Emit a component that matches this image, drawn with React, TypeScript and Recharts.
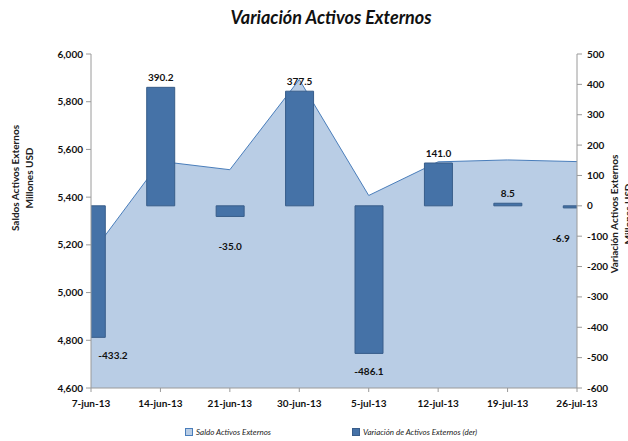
import React from "react";
import {
  ComposedChart,
  Area,
  Bar,
  XAxis,
  YAxis,
  LabelList,
} from "recharts";

const fechas = [
  "7-jun-13",
  "14-jun-13",
  "21-jun-13",
  "30-jun-13",
  "5-jul-13",
  "12-jul-13",
  "19-jul-13",
  "26-jul-13",
];
const saldo = [5160, 5550, 5515, 5893, 5407, 5548, 5556, 5549];
const variacion = [-433.2, 390.2, -35.0, 377.5, -486.1, 141.0, 8.5, -6.9];
const leftTicks = [4600, 4800, 5000, 5200, 5400, 5600, 5800, 6000];
const rightTicks = [-600, -500, -400, -300, -200, -100, 0, 100, 200, 300, 400, 500];

const data = fechas.map((f, i) => ({ i, fecha: f, saldo: saldo[i], variacion: variacion[i] }));

const W = 628;
const H = 441;
const LEFT_W = 91;
const RIGHT_W = 51;
const X_H = 30;
const M = { top: 54, right: 0, bottom: 53 - X_H, left: 0 };
const PLOT_LEFT = LEFT_W;
const PLOT_RIGHT = W - RIGHT_W;

const FONT = "Lato, 'Liberation Sans', sans-serif";
const AREA_FILL = "#B9CDE5";
const AREA_STROKE = "#4A7EBB";
const BAR_FILL = "#4572A7";
const BAR_STROKE = "#385D8A";

const tickStyle = { fill: "#111", fontSize: 10, fontWeight: 700, fontFamily: FONT };

const renderLabel = (props: any) => {
  const { x, y, width, height, value } = props;
  const top = Math.min(y, y + height);
  const bottom = Math.max(y, y + height);
  const text = Number(value).toFixed(1);
  const half = text.length * 3 + 1;
  const cx = Math.min(
    Math.max(x + width / 2, PLOT_LEFT + half + 3),
    PLOT_RIGHT - half - 3
  );
  const ty = value >= 0 ? top - 10 : bottom + (Math.abs(value) < 100 ? 30 : 18);
  return (
    <text
      x={cx}
      y={ty}
      textAnchor="middle"
      dominantBaseline="central"
      style={{ fontSize: 10, fontWeight: 700, fontFamily: FONT, fill: "#111" }}
    >
      {text}
    </text>
  );
};

const legendItem = (left: number, fill: string, stroke: string, text: string) => (
  <div
    style={{
      position: "absolute",
      left,
      top: 427,
      display: "flex",
      alignItems: "center",
      fontFamily: FONT,
      fontStyle: "italic",
      fontSize: 8,
      color: "#222",
      whiteSpace: "nowrap",
    }}
  >
    <span
      style={{
        width: 6,
        height: 6,
        background: fill,
        border: `1px solid ${stroke}`,
        marginRight: 3,
      }}
    />
    {text}
  </div>
);

// rotated two-line axis title, centred on (cx, cy)
const axisTitle = (cx: number, cy: number, line1: string) => (
  <div
    style={{
      position: "absolute",
      left: cx - 80,
      top: cy - 14,
      width: 160,
      height: 28,
      transform: "rotate(-90deg)",
      transformOrigin: "50% 50%",
      whiteSpace: "nowrap",
      textAlign: "center",
      fontFamily: FONT,
      fontWeight: 700,
      fontSize: 10,
      lineHeight: "14px",
      color: "#222",
    }}
  >
    {line1}
    <br />
    Millones USD
  </div>
);

export default function App() {
  return (
    <div style={{ position: "absolute", left: 0, top: 0, width: W, height: H, background: "#fff", overflow: "hidden" }}>
      <div
        style={{
          position: "absolute",
          left: 0,
          width: W,
          top: 6,
          textAlign: "center",
          fontFamily: FONT,
          fontWeight: 700,
          fontStyle: "italic",
          fontSize: 18,
          color: "#111",
          paddingLeft: 34,
          boxSizing: "border-box",
        }}
      >
        Variación Activos Externos
      </div>
      {axisTitle(22, 178, "Saldos Activos Externos")}
      {axisTitle(621, 214, "Variación Activos Externos")}
      <ComposedChart width={W} height={H} data={data} margin={M}>
        <XAxis
          dataKey="i"
          type="number"
          domain={[0, 7]}
          ticks={[0, 1, 2, 3, 4, 5, 6, 7]}
          allowDataOverflow
          tickFormatter={(v) => fechas[v]}
          tick={tickStyle}
          tickSize={4}
          tickMargin={8}
          stroke="#9a9a9a"
          height={X_H}
          interval={0}
        />
        <YAxis
          yAxisId="left"
          domain={[4600, 6000]}
          ticks={leftTicks}
          tickFormatter={(v) => v.toLocaleString("en-US")}
          tick={tickStyle}
          tickSize={5}
          tickMargin={3}
          stroke="#9a9a9a"
          width={LEFT_W}
          interval={0}
        />
        <YAxis
          yAxisId="right"
          orientation="right"
          domain={[-600, 500]}
          ticks={rightTicks}
          tick={tickStyle}
          tickSize={5}
          tickMargin={5}
          stroke="#9a9a9a"
          width={RIGHT_W}
          interval={0}
        />
        <Area
          yAxisId="left"
          dataKey="saldo"
          type="linear"
          fill={AREA_FILL}
          fillOpacity={1}
          stroke={AREA_STROKE}
          strokeWidth={1}
          isAnimationActive={false}
        />
        <Bar
          yAxisId="right"
          dataKey="variacion"
          barSize={28}
          fill={BAR_FILL}
          stroke={BAR_STROKE}
          strokeWidth={1}
          isAnimationActive={false}
        >
          <LabelList dataKey="variacion" content={renderLabel} />
        </Bar>
      </ComposedChart>
      {legendItem(185, AREA_FILL, AREA_STROKE, "Saldo Activos Externos")}
      {legendItem(352, BAR_FILL, BAR_STROKE, "Variación de Activos Externos (der)")}
    </div>
  );
}
